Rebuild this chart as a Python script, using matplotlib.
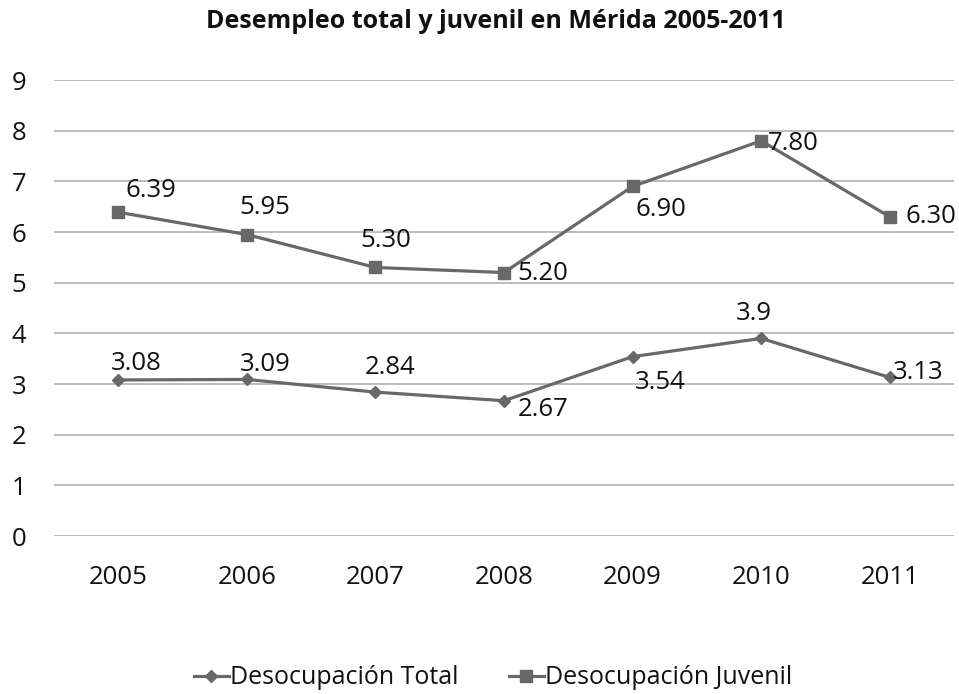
import matplotlib
matplotlib.use("Agg")
import matplotlib.pyplot as plt

years = ["2005", "2006", "2007", "2008", "2009", "2010", "2011"]
total = [3.08, 3.09, 2.84, 2.67, 3.54, 3.9, 3.13]
juvenil = [6.39, 5.95, 5.30, 5.20, 6.90, 7.80, 6.30]
total_labels = ["3.08", "3.09", "2.84", "2.67", "3.54", "3.9", "3.13"]
juvenil_labels = ["6.39", "5.95", "5.30", "5.20", "6.90", "7.80", "6.30"]
title = "Desempleo total y juvenil en Mérida 2005-2011"
series_names = ["Desocupación Total", "Desocupación Juvenil"]

plt.rcParams['font.family'] = ['Open Sans', 'DejaVu Sans']

fig = plt.figure(figsize=(9.59, 6.94), dpi=100)
ax = fig.add_axes([54/959, 1-536/694, 900/959, 456/694])

x = list(range(len(years)))
col = '#686868'
l1, = ax.plot(x, total, color=col, lw=2.3, marker='D', ms=6, label=series_names[0])
l2, = ax.plot(x, juvenil, color=col, lw=2.3, marker='s', ms=8, label=series_names[1])

ax.set_xlim(-0.5, 6.5)
ax.set_ylim(0, 9)
ax.set_yticks(range(10))
ax.set_xticks(x)
ax.set_xticklabels(years)
ax.grid(axis='y', color='#b8b8b8', lw=1.3)
ax.set_axisbelow(True)
for s in ax.spines.values():
    s.set_visible(False)
ax.tick_params(length=0, labelsize=18.5, colors='#111111')
ax.tick_params(axis='x', pad=21)
ax.tick_params(axis='y', pad=20)

lab_fs = 18.5
# offsets in pixels of label centre from the point
juv_off = [(33, 22), (18, 27), (10, 27), (39, -1), (28, -23), (32, -3), (41, 0)]
tot_off = [(18, 16), (18, 15), (15, 25), (39, -9), (28, -26), (-7, 25), (28, 5)]
for xi, v, t, (dx, dy) in zip(x, juvenil, juvenil_labels, juv_off):
    ax.annotate(t, (xi, v), xytext=(dx, dy), textcoords='offset pixels', ha='center', va='center',
                fontsize=lab_fs, color='#111111')
for xi, v, t, (dx, dy) in zip(x, total, total_labels, tot_off):
    ax.annotate(t, (xi, v), xytext=(dx, dy), textcoords='offset pixels', ha='center', va='center',
                fontsize=lab_fs, color='#111111')

fig.text(496/959, 1-22/694, title, ha='center', va='center', fontsize=18,
         fontweight='bold', color='#111111')

fig.legend(handles=[l1, l2], loc='center', bbox_to_anchor=(493/959, 1-678/694), ncol=2,
           frameon=False, fontsize=18, handlelength=1.4, handletextpad=0.05, columnspacing=2.0,
           labelcolor='#111111')

fig.savefig('out.png', dpi=100, facecolor='white')
